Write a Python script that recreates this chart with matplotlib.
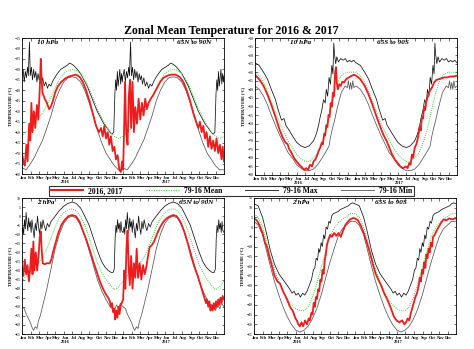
import numpy as np
import matplotlib
matplotlib.use('Agg')
import matplotlib.pyplot as plt
from matplotlib.lines import Line2D

plt.rcParams['font.family'] = ['Liberation Serif', 'DejaVu Serif']

# AXIS DATA
MONTHS = ['Jan', 'Feb', 'Mar', 'Apr', 'May', 'Jun', 'Jul', 'Aug', 'Sep', 'Oct', 'Nov', 'Dec']
MONTH_START = [0, 31, 60, 91, 121, 152, 182, 213, 244, 274, 305, 335]
YEARS = ['2016', '2017']
YEAR_LEN = 366
TOTAL_DAYS = 731

# climatology nodes (day of year), roughly twice a month
CLIM_DAYS = [0, 15, 31, 45, 59, 74, 90, 105, 120, 135, 151, 166, 181, 196, 212, 227,
             243, 258, 273, 288, 304, 319, 334, 349, 365]

# 10 hPa, 65N to 90N
TL_MAX_D = [0, 4, 8, 12, 16, 20, 23, 25, 27, 30, 34, 38, 42, 46, 50, 54, 58, 62, 66, 70,
            75, 80, 86, 92, 98, 104, 110, 118, 128, 140, 152, 164, 172, 180, 190, 200, 212, 224, 236, 248,
            260, 272, 284, 296, 308, 318, 326, 332, 336, 339, 342, 345, 348, 351, 354, 357, 360, 363, 365]
TL_MAX_V = [-33, -30, -36, -31, -34, -29, -33, -24, -17, -33, -29, -35, -30, -34, -31, -36, -32, -35, -33, -37,
            -34, -38, -36, -39, -37, -38, -36, -34, -32, -30, -29, -28, -27, -27.5, -28.5, -30, -32, -35, -38, -42,
            -46, -50, -53, -56, -58, -60, -61, -60, -42, -35, -40, -31, -38, -34, -30, -37, -32, -36, -33]
TL_MEAN = [-62, -60, -58, -56, -53, -51, -47, -43, -39, -35, -32, -30.5, -30, -30.5, -32, -35,
           -39, -44, -49, -53, -57, -60, -62, -63, -62]
TL_MIN = [-77, -78, -75, -72, -68, -64, -58, -52, -45, -40, -36, -34, -33.5, -34, -36, -40,
          -46, -52, -59, -65, -70, -73, -76, -78, -78]
TL_RED_D = [0, 5, 10, 16, 20, 26, 30, 34, 38, 43, 48, 54, 59, 64, 68, 71, 74, 82, 90, 98,
            104, 112, 120, 130, 142, 155, 168, 180, 195, 208, 220, 232, 244, 256, 268, 278, 286, 292, 298, 304,
            310, 316, 322, 328, 334, 340, 346, 352, 358, 362,
            366, 370, 373, 377, 382, 387, 391, 395, 400, 405, 410, 416, 422, 428, 434, 440, 446, 452, 458, 466,
            476, 488, 500, 512, 526, 540, 555, 570, 584, 596, 608, 620, 630, 638, 644, 650, 656, 662, 668, 674,
            680, 686, 692, 698, 704, 710, 716, 722, 726, 731]
TL_RED_V = [-70, -74, -76, -66, -74, -56, -64, -46, -60, -50, -58, -47, -54, -40, -25, -35, -41, -44, -46, -49,
            -48, -45, -41, -38, -36, -34.5, -33.5, -33, -32.5, -33.5, -36, -40, -45, -51, -57, -60, -58, -62, -57, -63,
            -60, -66, -62, -69, -67, -73, -71, -78, -79, -74,
            -78, -55, -36, -60, -66, -42, -35, -58, -36, -60, -48, -56, -44, -54, -46, -52, -44, -49, -46, -44,
            -42, -39, -36, -34, -33, -32.5, -32.5, -33.5, -36, -40, -45, -51, -55, -58, -55, -60, -57, -63, -60, -67,
            -62, -68, -64, -69, -63, -70, -66, -73, -67, -74]

# 10 hPa, 65S to 90S
TR_MAX_D = [0, 15, 31, 45, 59, 74, 84, 90, 96, 105, 112, 120, 135, 151, 166, 181, 196, 212, 222, 230,
            236, 242, 248, 254, 258, 263, 268, 273, 278, 282, 285, 288, 292, 296, 302, 310, 319, 327, 334, 342,
            349, 357, 365]
TR_MAX_V = [-24.5, -26, -30, -34, -40, -46, -52, -55, -58, -57, -61, -63, -67, -71, -73, -74, -73, -70, -66, -61,
            -56, -52, -46, -48, -40, -44, -33, -37, -26, -31, -13, -20, -25, -21, -24, -22, -23, -22, -24, -23,
            -24, -23, -24.5]
TR_MEAN = [-30, -32, -36, -41, -47, -53, -60, -65, -70, -74, -78, -80.5, -82, -82, -80, -77,
           -71, -63, -52, -42, -34, -31, -30, -30, -30]
TR_MIN_D = [0, 15, 31, 45, 59, 74, 90, 105, 120, 135, 151, 166, 181, 196, 212, 227, 243, 258, 268, 273,
            280, 288, 296, 304, 312, 319, 326, 334, 338, 342, 346, 350, 354, 358, 365]
TR_MIN_V = [-38, -40, -44, -49, -55, -61, -67, -72, -77, -80, -84, -86, -87.5, -87.5, -86.5, -84, -80, -76, -73, -68,
            -63, -58, -52, -47, -42, -40, -38, -39, -35, -40, -36, -40, -35, -39, -38]
TR_RED_D = [0, 15, 31, 45, 59, 74, 90, 100, 110, 118, 124, 132, 141, 150, 160, 170, 178, 185, 192, 199,
            206, 212, 218, 224, 230, 236, 242, 246, 250, 254, 258, 262, 266, 270, 274, 278, 282, 286, 290, 293,
            296, 300, 305, 310, 316, 322, 330, 340, 350, 358,
            366, 381, 397, 411, 425, 440, 456, 466, 476, 486, 496, 506, 516, 526, 536, 546, 552, 558, 563, 568,
            572, 578, 584, 590, 596, 600, 604, 608, 612, 616, 620, 626, 632, 640, 648, 656, 666, 676, 686, 696,
            706, 716, 731]
TR_RED_V = [-31.5, -34, -38, -43, -49, -56, -64, -68, -71, -72, -75, -77, -80, -82, -84, -85.5, -87, -86, -87, -84,
            -85, -82, -81, -79, -76, -74, -71, -72, -66, -67, -61, -62, -55, -56, -48, -50, -42, -44, -30, -27,
            -36, -40, -37, -38, -35.5, -36, -34, -33, -32, -31.5,
            -32, -34, -38, -43, -49, -56, -63, -67, -70, -74, -78, -81, -83, -85, -86, -85, -86, -83, -84, -78,
            -80, -74, -72, -68, -62, -64, -56, -57, -50, -52, -47, -44, -41, -39, -36, -34.5, -34, -33.5, -33, -33,
            -32.5, -32.5, -32]

# 2 hPa, 65N to 90N
BL_MAX_D = [0, 3, 6, 9, 12, 15, 18, 21, 24, 27, 30, 33, 36, 40, 44, 48, 52, 56, 60, 64,
            68, 72, 76, 80, 86, 92, 98, 105, 115, 125, 135, 151, 166, 181, 196, 212, 227, 243, 258, 273,
            288, 300, 312, 322, 330, 334, 337, 340, 343, 346, 349, 352, 355, 358, 361, 365]
BL_MAX_V = [-9, -6, -10, -2, -7, 2, -4, -8, -1, -6, -3, -9, -2, -7, -12, -4, -8, 0, -6, -10,
            -3, -7, -2, -5, -8, -4, -6, -3, -1, 1, 3, 5.5, 7, 7.8, 7, 4.5, 0, -5, -12, -19,
            -25, -28, -30, -31, -31, -29, -12, -5, -9, -2, -7, -4, -9, -3, -8, -9]
BL_MEAN = [-36, -33, -30, -28, -26, -23, -18, -12, -6, -1, 2, 3.5, 4, 3, 0, -5,
           -12, -19, -26, -31, -35, -38, -40.5, -39, -36]
BL_MIN_D = [0, 8, 15, 22, 31, 38, 42, 48, 54, 59, 66, 74, 82, 90, 105, 120, 135, 151, 166, 181,
            196, 212, 227, 243, 258, 273, 288, 304, 319, 334, 342, 350, 356, 365]
BL_MIN_V = [-50, -51, -54, -56, -59, -62, -63, -61, -62, -58, -55, -50, -45, -40, -29, -18, -10, -4, -1, 0,
            -1, -5, -11, -19, -27, -35, -41, -46, -50, -52, -49, -51, -48, -50]
BL_RED_D = [0, 5, 10, 15, 20, 25, 30, 34, 38, 41, 45, 50, 55, 60, 64, 68, 71, 75, 82, 90,
            100, 106, 112, 119, 130, 142, 155, 168, 181, 195, 208, 220, 235, 248, 260, 271, 282, 293, 303, 312,
            318, 322, 326, 330, 334, 337, 341, 345, 349, 353, 357, 361,
            366, 370, 374, 378, 382, 386, 390, 395, 400, 405, 410, 415, 420, 426, 432, 438, 444, 450, 456, 462,
            470, 478, 488, 500, 512, 525, 537, 547, 560, 573, 586, 600, 612, 624, 636, 646, 654, 660, 666, 670,
            674, 678, 682, 686, 690, 694, 698, 702, 706, 710, 714, 718, 722, 726, 731]
BL_RED_V = [-28, -33, -24, -32, -27, -36, -28, -18, -32, -14, -30, -20, -30, -22, -12, -8.5, -18, -26, -26.5, -26,
            -26, -24, -20, -16, -10, -5, -2, 0, 0.6, 0, -3, -8, -14, -20, -26, -31, -36, -40, -43, -45,
            -47, -50, -48, -53, -51, -57, -52, -56, -50, -54, -49, -48,
            -46, -30, -40, -18, -8, -28, -38, -22, -40, -26, -34, -18, -34, -26, -35, -27, -32, -28, -22, -17,
            -16, -14, -10, -6, -3, -1, 0, 0.6, 0, -3, -8, -15, -22, -28, -33, -38, -42, -45, -48, -46,
            -50, -47, -52, -49, -52, -48, -51, -47, -50, -46, -49, -45, -48, -44, -46]

# 2 hPa, 65S to 90S
BR_MAX_D = [0, 15, 31, 45, 59, 74, 90, 105, 120, 130, 138, 145, 152, 160, 168, 176, 184, 192, 200, 208,
            215, 220, 225, 230, 234, 238, 243, 247, 252, 256, 261, 266, 271, 276, 282, 288, 296, 304, 312, 319,
            327, 334, 342, 349, 357, 365]
BR_MAX_V = [12, 11, 5, -3, -12, -19, -24, -27, -30, -32, -34, -33, -35, -34, -36, -34, -35, -33, -30, -27,
            -22, -21, -16, -17, -11, -13, -8, -10, -4, -6, 0, -1, 3, 2, 6, 7, 7.5, 8, 9, 9.5,
            10, 10.5, 11, 12, 12.5, 12]
BR_MEAN = [7, 5, 0, -7, -15, -22, -28, -33, -37, -40, -42, -43, -43, -41, -36, -29,
           -21, -13, -6, -1, 2, 4, 5.5, 7, 7]
BR_MIN = [3, 1, -4, -12, -20, -28, -35, -41, -46, -50, -53, -54, -53, -51, -47, -42,
          -35, -27, -19, -12, -5, -1, 1, 3, 3]
BR_RED_D = [0, 10, 20, 31, 40, 47, 55, 63, 74, 85, 94, 105, 119, 130, 140, 145, 150, 155, 160, 166,
            172, 178, 185, 192, 198, 202, 208, 212, 216, 220, 224, 228, 232, 236, 240, 244, 248, 252, 256, 260,
            264, 270, 276, 282, 290, 298, 306, 314, 322, 330, 338, 348, 358,
            366, 376, 386, 397, 406, 413, 421, 430, 440, 450, 460, 471, 485, 496, 506, 516, 526, 536, 544, 550,
            556, 562, 568, 574, 578, 584, 590, 596, 600, 604, 608, 612, 616, 620, 624, 628, 632, 636, 640, 644,
            648, 654, 660, 668, 676, 686, 696, 706, 716, 731]
BR_RED_V = [4.5, 3.5, 1, -3, -8, -10, -15, -19, -25, -28, -29, -33, -37, -41, -43, -45, -47, -48, -50, -51,
            -49, -51, -48, -50, -47, -48, -44, -45, -39, -41, -36, -37, -32, -33, -27, -28, -22, -24, -17, -14,
            -9, -6, -4, -5, -3, -4.5, -3, -5, -2, 1, 2.5, 4, 4.7,
            4.5, 3.5, 1, -3, -7, -10, -14, -19, -24, -27, -30, -34, -38, -42, -46, -48, -49, -48, -50, -49,
            -47, -48, -44, -41, -39, -36, -34, -30, -26, -28, -22, -24, -18, -21, -14, -16, -11, -13, -8, -10,
            -5, -4, -2, 0, 2, 4, 3.5, 4.5, 4, 4.5]

PANELS = [
    dict(level='10 hPa', region='65N to 90N', ylim=(-80, -15), pos=[22, 38, 224, 174],
         max=(TL_MAX_D, TL_MAX_V), mean=(CLIM_DAYS, TL_MEAN), min=(CLIM_DAYS, TL_MIN),
         red=(TL_RED_D, TL_RED_V), lx=0.074, rx=0.936),
    dict(level='10 hPa', region='65S to 90S', ylim=(-90, -10), pos=[255, 38, 457, 175],
         max=(TR_MAX_D, TR_MAX_V), mean=(CLIM_DAYS, TR_MEAN), min=(TR_MIN_D, TR_MIN_V),
         red=(TR_RED_D, TR_RED_V), lx=0.173, rx=0.762),
    dict(level='2 hPa', region='65N to 90N', ylim=(-65, 10), pos=[22, 198, 224, 334],
         max=(BL_MAX_D, BL_MAX_V), mean=(CLIM_DAYS, BL_MEAN), min=(BL_MIN_D, BL_MIN_V),
         red=(BL_RED_D, BL_RED_V), lx=0.074, rx=0.946),
    dict(level='2 hPa', region='65S to 90S', ylim=(-55, 15), pos=[254, 198, 456, 334],
         max=(BR_MAX_D, BR_MAX_V), mean=(CLIM_DAYS, BR_MEAN), min=(CLIM_DAYS, BR_MIN),
         red=(BR_RED_D, BR_RED_V), lx=0.188, rx=0.757),
]

RED = '#ee1c1c'
GREEN = '#3fd23f'
MAXC = '#111111'
MINC = '#555555'

W, H = 474, 349


def two_years(days, vals):
    # same climatology drawn for both years
    x = list(days) + [d + YEAR_LEN for d in days]
    y = list(vals) + list(vals)
    return x, y


def draw_panel(fig, p):
    x0, y0, x1, y1 = p['pos']
    ax = fig.add_axes([x0 / W, 1 - y1 / H, (x1 - x0) / W, (y1 - y0) / H])

    ax.plot(*two_years(*p['min']), color=MINC, lw=0.55)
    ax.plot(*two_years(*p['max']), color=MAXC, lw=0.55)
    ax.plot(*two_years(*p['mean']), color=GREEN, lw=0.7, ls=(0, (1, 1.2)))
    ax.plot(p['red'][0], p['red'][1], color=RED, lw=1.3)

    lo, hi = p['ylim']
    ax.set_xlim(0, TOTAL_DAYS)
    ax.set_ylim(lo, hi)

    starts = MONTH_START + [d + YEAR_LEN for d in MONTH_START]
    ax.set_xticks(starts)
    ax.set_xticklabels([])
    labels = []
    for yr in YEARS:
        for m in MONTHS:
            labels.append(m + '\n' + yr if m == 'Jun' else m)
    ax.set_xticks([d + 4 for d in starts], minor=True)
    ax.set_xticklabels(labels, minor=True, fontsize=3.2, fontweight='bold', linespacing=0.9, va='top')
    ax.tick_params(axis='x', which='major', direction='in', length=2.2, width=0.4, top=True)
    ax.tick_params(axis='x', which='minor', length=0, pad=1.5)

    ax.set_yticks(np.arange(lo, hi + 1, 5))
    ax.tick_params(axis='y', direction='in', length=1.8, width=0.4, right=True, labelsize=2.8, pad=1)
    ax.set_ylabel('TEMPERATURE (\u00b0C)', fontsize=3, fontweight='bold', labelpad=1.5)

    for s in ax.spines.values():
        s.set_linewidth(0.6)

    ax.text(p['lx'], 0.985, p['level'], transform=ax.transAxes, ha='left', va='top',
            fontsize=5.2, fontweight='bold', style='italic')
    ax.text(p['rx'], 0.985, p['region'], transform=ax.transAxes, ha='right', va='top',
            fontsize=5.2, fontweight='bold', style='italic')
    return ax


fig = plt.figure(figsize=(W / 100, H / 100), dpi=100)

for p in PANELS:
    draw_panel(fig, p)

fig.text(0.487, 1 - 31 / H, 'Zonal Mean Temperature for 2016 & 2017', ha='center', va='center',
         fontsize=8.6, fontweight='bold')

handles = [Line2D([], [], color=RED, lw=1.5),
           Line2D([], [], color=GREEN, lw=0.8, ls=(0, (1, 1.2))),
           Line2D([], [], color=MAXC, lw=0.6),
           Line2D([], [], color=MINC, lw=0.6)]
leg = fig.legend(handles, ['2016, 2017', '79-16 Mean', '79-16 Max', '79-16 Min'],
                 loc='center', bbox_to_anchor=(0.488, 1 - 191 / H), ncol=4,
                 frameon=True, fancybox=False, edgecolor='black',
                 prop=dict(weight='bold', size=5.5), handlelength=4.3, handletextpad=0.7,
                 columnspacing=3.0, borderpad=0.15, borderaxespad=0)
leg.get_frame().set_linewidth(0.8)

fig.savefig('out.png', dpi=100)
